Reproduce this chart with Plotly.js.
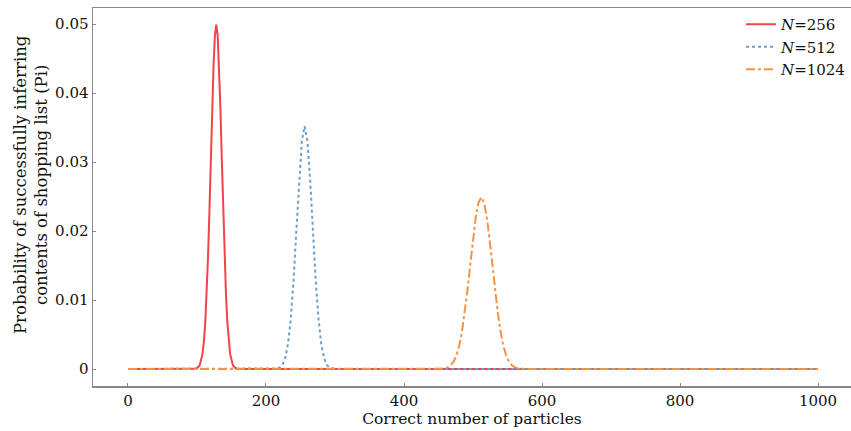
<!DOCTYPE html>
<html>
<head>
<meta charset="utf-8">
<script src="https://cdn.plot.ly/plotly-3.0.1.min.js"></script>
<style>html,body{margin:0;padding:0;background:#fff;}#chart{width:851px;height:431px;}</style>
</head>
<body>
<div id="chart"></div>
<script>
// N=256 series
const x256 = [0, 92, 96, 100, 104, 108, 110, 112, 114, 116, 118, 120, 122, 124, 126, 128, 130, 132, 134, 136, 138, 140, 142, 144, 146, 148, 152, 156, 160, 164, 1000];
const y256 = [0, 0, 0.00002, 0.00011, 0.00055, 0.00219, 0.00397, 0.00675, 0.01079, 0.0162, 0.02284, 0.0303, 0.03766, 0.0440, 0.04836, 0.0499, 0.04836, 0.0440, 0.03766, 0.0303, 0.02284, 0.0162, 0.01079, 0.00675, 0.00397, 0.00219, 0.00055, 0.00011, 0.00002, 0, 0];
// N=512 series
const x512 = [0, 208, 212, 216, 220, 224, 228, 232, 236, 240, 244, 248, 252, 256, 260, 264, 268, 272, 276, 280, 284, 288, 292, 296, 300, 304, 1000];
const y512 = [0, 0, 0.00002, 0.00007, 0.00022, 0.00064, 0.00165, 0.00371, 0.00738, 0.01295, 0.02006, 0.02741, 0.03307, 0.0352, 0.03307, 0.02741, 0.02006, 0.01295, 0.00738, 0.00371, 0.00165, 0.00064, 0.00022, 0.00007, 0.00002, 0, 0];
// N=1024 series
const x1024 = [0, 448, 452, 456, 460, 464, 468, 472, 476, 480, 484, 488, 492, 496, 500, 504, 508, 512, 516, 520, 524, 528, 532, 536, 540, 544, 548, 552, 556, 560, 564, 568, 572, 576, 1000];
const y1024 = [0, 0, 0.00002, 0.000055, 0.000127, 0.00028, 0.00057, 0.00109, 0.00198, 0.00337, 0.00539, 0.00809, 0.0114, 0.0151, 0.01879, 0.0220, 0.02413, 0.0249, 0.02413, 0.0220, 0.01879, 0.0151, 0.0114, 0.00809, 0.00539, 0.00337, 0.00198, 0.00109, 0.00057, 0.00028, 0.000127, 0.000055, 0.00002, 0, 0];

const seriesNames = ['<i>N</i>=256', '<i>N</i>=512', '<i>N</i>=1024'];
const xTicks = [0, 200, 400, 600, 800, 1000];
const yTicks = [0, 0.01, 0.02, 0.03, 0.04, 0.05];
const yTickText = ['0', '0.01', '0.02', '0.03', '0.04', '0.05'];
const xTitle = 'Correct number of particles';
const yTitle = 'Probability of successfully inferring<br>contents of shopping list (Pi)';

const font = 'DejaVu Serif, serif';

const traces = [
  {x: x256, y: y256, name: seriesNames[0], mode: 'lines', line: {color: '#f0444a', width: 2, dash: 'solid'}},
  {x: x512, y: y512, name: seriesNames[1], mode: 'lines', line: {color: '#6b9fcc', width: 2, dash: 'dot'}},
  {x: x1024, y: y1024, name: seriesNames[2], mode: 'lines', line: {color: '#f5924a', width: 2, dash: 'dashdot'}}
];

const layout = {
  width: 851, height: 431,
  margin: {l: 93, r: 0, t: 8, b: 45},
  paper_bgcolor: '#fff', plot_bgcolor: '#fff',
  font: {family: font, size: 15, color: '#111'},
  showlegend: true,
  legend: {x: 1, xanchor: 'right', y: 1, yanchor: 'top', bgcolor: 'rgba(0,0,0,0)', font: {family: font, size: 15}, tracegroupgap: 0, itemwidth: 30},
  xaxis: {
    range: [-50.7, 1047.8], tickvals: xTicks, ticktext: xTicks.map(String),
    ticks: 'inside', ticklen: 3, tickcolor: '#888', tickwidth: 1,
    showline: true, linecolor: '#888', linewidth: 1.5, mirror: true,
    showgrid: false, zeroline: false,
    tickfont: {family: font, size: 15},
    title: {text: xTitle, font: {family: font, size: 15.5}, standoff: 4}
  },
  yaxis: {
    range: [-0.002464, 0.05232], tickvals: yTicks, ticktext: yTickText,
    ticks: 'inside', ticklen: 3, tickcolor: '#888', tickwidth: 1,
    showline: true, linecolor: '#888', linewidth: 1.5,
    showgrid: false, zeroline: false,
    tickfont: {family: font, size: 15}
  },
  annotations: [{
    text: yTitle, xref: 'paper', yref: 'paper', x: -0.082, y: 0.534,
    xanchor: 'center', yanchor: 'middle', textangle: -90, showarrow: false,
    font: {family: font, size: 16.5, color: '#111'}
  }]
};

Plotly.newPlot('chart', traces, layout, {displayModeBar: false, staticPlot: true});
</script>
</body>
</html>
